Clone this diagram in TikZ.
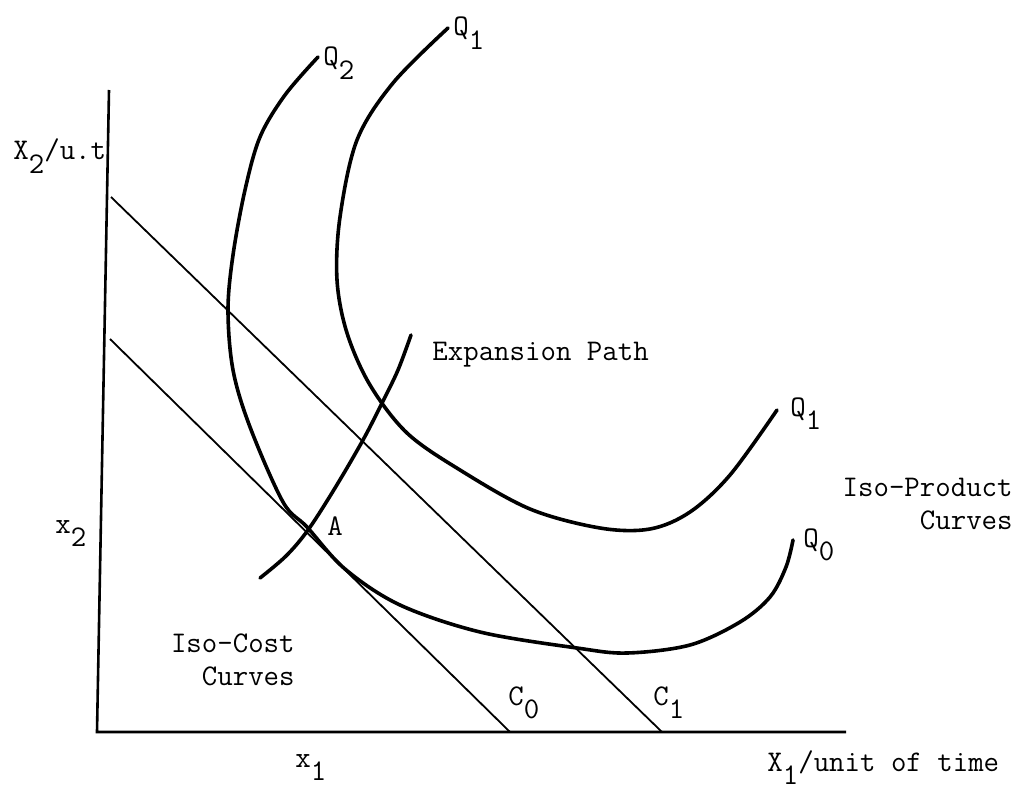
\documentclass[tikz,border=0pt]{standalone}
\usepackage{amsmath}
\newcommand{\dn}[1]{\raisebox{-0.45em}{#1}}
\begin{document}
\begin{tikzpicture}[x=0.5pt,y=-0.5pt,
    lab/.style={font=\fontsize{15}{16.5}\selectfont\ttfamily, inner sep=0pt},
    axis/.style={line width=1.3pt},
    cost/.style={line width=0.9pt},
    iso/.style={line width=1.8pt, line cap=round, smooth, tension=0.55}]
    \useasboundingbox (0,0) rectangle (1020,791);
    % axes
    \coordinate (O) at (97,732);
    \coordinate (yend) at (109,90);
    \coordinate (xend) at (846,732);
    \draw[axis] (yend) -- (O) -- (xend);
    % iso-cost lines
    \coordinate (c0top) at (110,339);
    \coordinate (c0foot) at (510,732);
    \coordinate (c1top) at (111,197);
    \coordinate (c1foot) at (662,732);
    \draw[cost] (c0top) -- (c0foot);
    \draw[cost] (c1top) -- (c1foot);
    % iso-product curves
    \draw[iso] plot coordinates {(318,57) (285,95) (260,137) (245,190) (233,255)
        (228,310) (233,370) (250,427) (283,502) (307,527) (345,569) (400,605)
        (480,632) (577,648) (627,653) (690,645) (740,622) (770,597) (786,567) (793,540)};
    \draw[iso] plot coordinates {(448,28) (393,83) (357,140) (340,217) (337,280)
        (347,333) (370,385) (407,433) (460,470) (530,509) (600,528) (650,529)
        (690,512) (730,475) (777,410)};
    % expansion path
    \draw[iso] plot coordinates {(260,578) (286,556) (308,530) (335,488) (363,440)
        (382,403) (398,370) (411,335)};
    % labels
    \node[lab, anchor=base west] (x2axis) at (13,160) {X\dn{2}/u.t};
    \node[lab, anchor=base west] (x1axis) at (767,771) {X\dn{1}/unit of time};
    \node[lab, anchor=base west] (x2) at (55,533) {x\dn{2}};
    \node[lab, anchor=base west] (x1) at (295,767) {x\dn{1}};
    \node[lab, anchor=base west] (q2) at (323,66) {Q\dn{2}};
    \node[lab, anchor=base west] (q1top) at (453,36) {Q\dn{1}};
    \node[lab, anchor=base west] (q1right) at (790,416) {Q\dn{1}};
    \node[lab, anchor=base west] (q0) at (803,547) {Q\dn{0}};
    \node[lab, anchor=base west] (c0) at (508,705) {C\dn{0}};
    \node[lab, anchor=base west] (c1) at (653,705) {C\dn{1}};
    \node[lab, anchor=base west] (a) at (327,535) {A};
    \node[lab, anchor=base west] (expath) at (432,360) {Expansion Path};
    \node[lab, anchor=north east, align=right] (isoprod) at (1013,478) {Iso-Product\\Curves};
    \node[lab, anchor=north east, align=right] (isocost) at (295,633) {Iso-Cost\\Curves};
\end{tikzpicture}
\end{document}
